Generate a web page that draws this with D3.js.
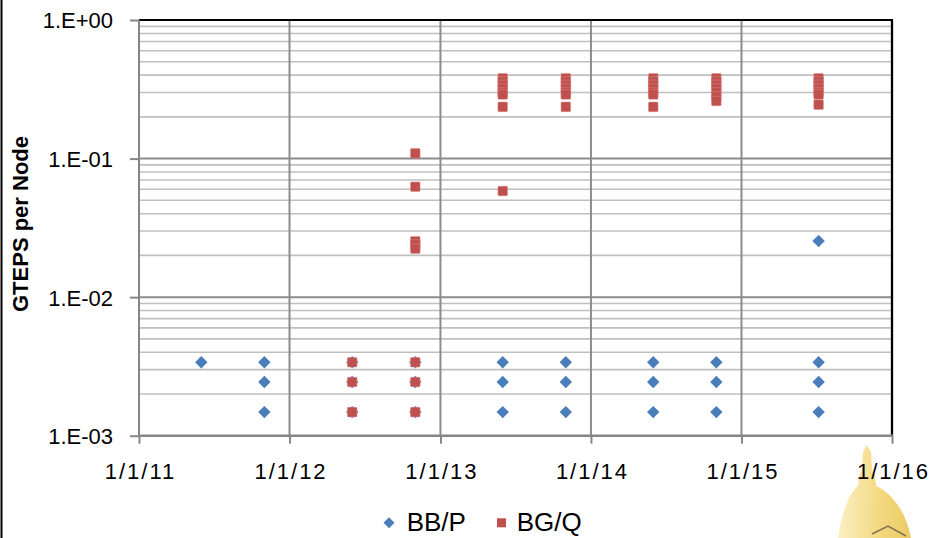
<!DOCTYPE html>
<html>
<head>
<meta charset="utf-8">
<script src="https://cdn.jsdelivr.net/npm/d3@7"></script>
<style>
  html, body { margin: 0; padding: 0; background: #fff; }
  svg { display: block; font-family: "Liberation Sans", Arial, sans-serif; }
</style>
</head>
<body>
<svg id="chart" width="931" height="538"></svg>
<script>
// ---- data ----
const dates = ["2011-06-01", "2011-11-01", "2012-06-01", "2012-11-01", "2013-06-01",
               "2013-11-01", "2014-06-01", "2014-11-01", "2015-07-07"];
const bbpValues = [
  [0.00339],
  [0.00339, 0.00244, 0.00148],
  [0.00339, 0.00244, 0.00148],
  [0.00339, 0.00244, 0.00148],
  [0.00339, 0.00244, 0.00148],
  [0.00339, 0.00244, 0.00148],
  [0.00339, 0.00244, 0.00148],
  [0.00339, 0.00244, 0.00148],
  [0.0254, 0.00339, 0.00244, 0.00148]
];
const bgqValues = [
  [],
  [],
  [0.00339, 0.00244, 0.00148],
  [0.109, 0.0626, 0.0253, 0.024, 0.0224, 0.00339, 0.00244, 0.00148],
  [0.38, 0.36, 0.34, 0.32, 0.30, 0.29, 0.236, 0.0583],
  [0.38, 0.36, 0.34, 0.32, 0.30, 0.29, 0.236],
  [0.38, 0.36, 0.34, 0.32, 0.30, 0.29, 0.236],
  [0.38, 0.36, 0.34, 0.32, 0.30, 0.28, 0.26],
  [0.38, 0.36, 0.34, 0.32, 0.30, 0.29, 0.245]
];
const seriesNames = ["BB/P", "BG/Q"];
const yTicks = [1e-3, 1e-2, 1e-1, 1];
const yTickLabels = ["1.E-03", "1.E-02", "1.E-01", "1.E+00"];
const xTicks = ["2011-01-01", "2012-01-01", "2013-01-01", "2014-01-01", "2015-01-01", "2016-01-01"];
const xTickLabels = ["1/1/11", "1/1/12", "1/1/13", "1/1/14", "1/1/15", "1/1/16"];
const yTitle = "GTEPS per Node";

// ---- layout ----
const L = 139, R = 892, T = 20, B = 435.7;
const blue = "#4a7ebb", red = "#c0504d";
const parse = d3.utcParse("%Y-%m-%d");

const x = d3.scaleUtc().domain([parse(xTicks[0]), parse(xTicks[xTicks.length - 1])]).range([L, R]);
const y = d3.scaleLog().domain([1e-3, 1]).range([B, T]);

const svg = d3.select("#chart");

// left page border line
svg.append("line").attr("x1", 1.5).attr("x2", 1.5).attr("y1", 0).attr("y2", 538)
  .attr("stroke", "#000").attr("stroke-width", 2);

// logo (golden dome)
const defs = svg.append("defs");
const grad = defs.append("linearGradient").attr("id", "gold").attr("x1", 0).attr("x2", 1).attr("y1", 0).attr("y2", 0);
grad.append("stop").attr("offset", "0%").attr("stop-color", "#fbeebc");
grad.append("stop").attr("offset", "55%").attr("stop-color", "#f2d36c");
grad.append("stop").attr("offset", "100%").attr("stop-color", "#e9c24a");
const logo = svg.append("g").attr("opacity", 0.85);
logo.append("path")
  .attr("d", "M866.5,445 L863,452 L862,470 L859,475 L858,486 C850,492 842,510 838,538 L911,538 C906,510 890,492 876,486 L875,475 L872,470 L871,452 Z")
  .attr("fill", "url(#gold)");
logo.append("path")
  .attr("d", "M872,534 L888,526 L906,536")
  .attr("fill", "none").attr("stroke", "#6b5a3a").attr("stroke-width", 1.5);

// minor horizontal gridlines
const minor = [];
[1e-3, 1e-2, 1e-1].forEach(d => { for (let k = 2; k <= 9; k++) minor.push(d * k); });
svg.append("g").selectAll("line").data(minor).join("line")
  .attr("x1", L).attr("x2", R).attr("y1", d => y(d)).attr("y2", d => y(d))
  .attr("stroke", "#bfbfbf").attr("stroke-width", 1.6);

// major horizontal gridlines
svg.append("g").selectAll("line").data(yTicks.slice(1, 3)).join("line")
  .attr("x1", L).attr("x2", R).attr("y1", d => y(d)).attr("y2", d => y(d))
  .attr("stroke", "#8c8c8c").attr("stroke-width", 2);

// vertical gridlines
svg.append("g").selectAll("line").data(xTicks.slice(1, xTicks.length - 1)).join("line")
  .attr("x1", d => x(parse(d))).attr("x2", d => x(parse(d))).attr("y1", T).attr("y2", B)
  .attr("stroke", "#8c8c8c").attr("stroke-width", 2);

// frame: top and right black
svg.append("line").attr("x1", L).attr("x2", R + 1).attr("y1", T).attr("y2", T)
  .attr("stroke", "#000").attr("stroke-width", 2);
svg.append("line").attr("x1", R).attr("x2", R).attr("y1", T).attr("y2", B)
  .attr("stroke", "#000").attr("stroke-width", 2.3);

// y axis
const yAxis = d3.axisLeft(y).tickValues(yTicks).tickSize(9).tickPadding(17)
  .tickFormat((d, i) => yTickLabels[i]);
const gy = svg.append("g").attr("transform", `translate(${L},0)`).call(yAxis);
gy.select(".domain").attr("stroke", "#868686").attr("stroke-width", 2)
  .attr("d", `M0,${T}V${B + 1}`);
gy.selectAll(".tick line").attr("stroke", "#868686").attr("stroke-width", 2);
gy.selectAll(".tick text").attr("font-size", 22).attr("fill", "#000")
  .attr("font-family", "'Liberation Sans', Arial, sans-serif").attr("dy", "0.36em");

// x axis
const xAxis = d3.axisBottom(x).tickValues(xTicks.map(parse)).tickSize(8).tickPadding(20)
  .tickFormat((d, i) => xTickLabels[i]);
const gx = svg.append("g").attr("transform", `translate(0,${B})`).call(xAxis);
gx.select(".domain").attr("stroke", "#868686").attr("stroke-width", 2.5)
  .attr("d", `M${L - 1},0H${R + 1}`);
gx.selectAll(".tick line").attr("stroke", "#868686").attr("stroke-width", 2);
gx.selectAll(".tick text").attr("font-size", 22).attr("fill", "#000")
  .attr("font-family", "'Liberation Sans', Arial, sans-serif")
  .attr("letter-spacing", "2px").attr("dy", "0.71em").attr("dx", "1px");

// y title
svg.append("text").attr("transform", "translate(28,224) rotate(-90)")
  .attr("text-anchor", "middle").attr("font-weight", "bold").attr("font-size", 22)
  .attr("fill", "#000").text(yTitle);

// points
const flat = (vals) => vals.flatMap((arr, i) => arr.map(v => ({ date: parse(dates[i]), v })));
const diamond = "M0,-6.2L6.2,0L0,6.2L-6.2,0Z";
svg.append("g").selectAll("path").data(flat(bbpValues)).join("path")
  .attr("d", diamond)
  .attr("transform", d => `translate(${x(d.date)},${y(d.v)})`)
  .attr("fill", blue);
svg.append("g").selectAll("rect").data(flat(bgqValues)).join("rect")
  .attr("x", d => x(d.date) - 4.8).attr("y", d => y(d.v) - 4.8)
  .attr("width", 9.6).attr("height", 9.6).attr("rx", 1)
  .attr("fill", red).attr("stroke", "#d88a88").attr("stroke-width", 0.5);

// legend
const lg = svg.append("g");
lg.append("path").attr("d", "M0,-5.5L5.5,0L0,5.5L-5.5,0Z").attr("transform", "translate(389,522.7)").attr("fill", blue);
lg.append("text").attr("x", 406.7).attr("y", 531).attr("font-size", 26).attr("fill", "#000").text(seriesNames[0]);
lg.append("rect").attr("x", 497).attr("y", 518.3).attr("width", 9).attr("height", 9).attr("fill", red);
lg.append("text").attr("x", 516.7).attr("y", 531).attr("font-size", 26).attr("fill", "#000").text(seriesNames[1]);
</script>
</body>
</html>
